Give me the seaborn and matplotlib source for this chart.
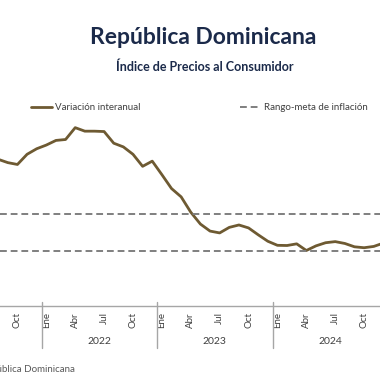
import numpy as np
import pandas as pd
import matplotlib
matplotlib.use('Agg')
import matplotlib.pyplot as plt
import matplotlib.transforms as mtransforms
from matplotlib.lines import Line2D
import seaborn as sns

# monthly index: 0 = Ene 2022
months = list(range(-5, 36))  # Ago 2021 .. Dic 2024
inflacion = [7.93, 7.75, 7.65, 8.2, 8.5,
             8.7, 8.95, 9.0, 9.64, 9.45, 9.45, 9.43, 8.8, 8.6, 8.2, 7.55, 7.83,
             7.1, 6.35, 5.9, 5.07, 4.43, 4.05, 3.95, 4.25, 4.38, 4.22, 3.85, 3.5,
             3.28, 3.27, 3.36, 3.0, 3.25, 3.42, 3.48, 3.38, 3.2, 3.15, 3.22, 3.4]
meta_inf, meta_sup = 3.0, 5.0
mes_labels = ['Ene', 'Abr', 'Jul', 'Oct']
years = [2022, 2023, 2024]

df = pd.DataFrame({'mes': months, 'valor': inflacion})

sns.set_style('white')
plt.rcParams['font.family'] = ['Lato', 'DejaVu Sans']

brown = '#6e5a32'
gris = '#7f7f7f'
navy = '#1b2a4a'
txt = '#404040'

fig = plt.figure(figsize=(3.8, 3.8), dpi=100)
ax = fig.add_axes([0, 1 - 306 / 380, 1, 222 / 380])

sns.lineplot(data=df, x='mes', y='valor', color=brown, linewidth=2, ax=ax)
ax.axhline(meta_sup, color=gris, linestyle=(0, (3.5, 2)), linewidth=1.4)
ax.axhline(meta_inf, color=gris, linestyle=(0, (3.5, 2)), linewidth=1.4)

ax.set_xlabel('')
ax.set_ylabel('')
ax.set_yticks([])
for s in ['left', 'right', 'top']:
    ax.spines[s].set_visible(False)
ax.spines['bottom'].set_color('#a6a6a6')
ax.spines['bottom'].set_linewidth(1.0)

# month ticks
ticks, labels = [], []
for m in range(-3, 35, 3):
    ticks.append(m)
    labels.append(mes_labels[(m % 12) // 3])
ax.set_xticks(ticks)
ax.set_xticklabels(labels, rotation=90, fontsize=7, color=txt)
ax.tick_params(axis='x', length=0, pad=4.5)
ax.set_xlim(-4.81, 34.65)
ax.set_ylim(0, 12)

# year separators and labels
tr = mtransforms.blended_transform_factory(ax.transData, ax.transAxes)
for i, y in enumerate(years):
    start = 12 * i - 0.5
    ax.add_line(Line2D([start, start], [0.02, -0.19], transform=tr,
                       color='#a6a6a6', linewidth=1.0, clip_on=False))
    ax.text(start + 6, -0.16, str(y), transform=tr, ha='center', va='center',
            fontsize=7.5, color=txt)

# titles
fig.text(203 / 380, 1 - 37 / 380, 'República Dominicana', ha='center', va='center',
         fontsize=16.5, fontweight='bold', color=navy)
fig.text(205 / 380, 1 - 67 / 380, 'Índice de Precios al Consumidor', ha='center',
         va='center', fontsize=9, fontweight='bold', color=navy)

# legends
h1 = [Line2D([0], [0], color=brown, linewidth=2)]
h2 = [Line2D([0], [0], color=gris, linestyle=(0, (3.5, 2)), linewidth=1.4)]
leg1 = fig.legend(h1, ['Variación interanual'], loc='center left',
                  bbox_to_anchor=(26 / 380, 1 - 108 / 380), frameon=False,
                  fontsize=7, handlelength=2.2, handletextpad=0.3, borderpad=0)
leg2 = fig.legend(h2, ['Rango-meta de inflación'], loc='center left',
                  bbox_to_anchor=(235 / 380, 1 - 108 / 380), frameon=False,
                  fontsize=7, handlelength=2.2, handletextpad=0.3, borderpad=0)
for t in leg1.get_texts() + leg2.get_texts():
    t.set_color(txt)

fig.text(75 / 380, 1 - 369 / 380, 'Fuente: Banco Central de la República Dominicana',
         ha='right', va='center', fontsize=7, color='#595959')

fig.savefig('out.png', dpi=100)
